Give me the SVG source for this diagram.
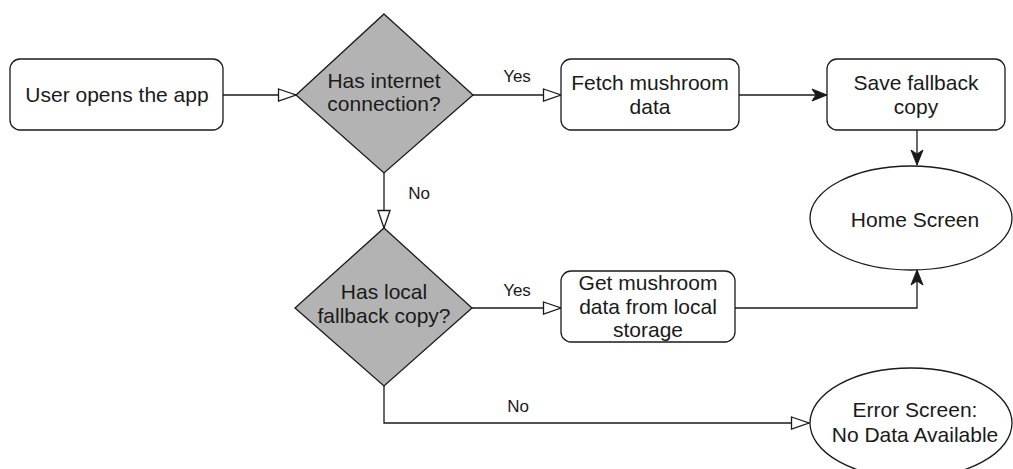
<svg xmlns="http://www.w3.org/2000/svg" width="1013" height="469" viewBox="0 0 1013 469">
  <style>
    .shape { fill: #ffffff; stroke: #1a1a1a; stroke-width: 1.3; }
    .decision { fill: #b3b3b3; stroke: #1a1a1a; stroke-width: 1.3; }
    .label { font-family: "Liberation Sans", Arial, Helvetica, sans-serif; font-size: 21px; fill: #1a1a1a; text-anchor: middle; }
    .edge-label { font-family: "Liberation Sans", Arial, Helvetica, sans-serif; font-size: 17px; fill: #1a1a1a; text-anchor: middle; }
    .edge { fill: none; stroke: #1a1a1a; stroke-width: 1.3; }
    .open { marker-end: url(#hollow); }
    .solid { marker-end: url(#filled); }
  </style>
  <defs>
    <marker id="hollow" markerUnits="userSpaceOnUse" markerWidth="20" markerHeight="14" refX="18" refY="6.5" orient="auto" overflow="visible">
      <polygon points="0.5,0.5 18,6.5 0.5,12.5" fill="#ffffff" stroke="#1a1a1a" stroke-width="1.3"/>
    </marker>
    <marker id="filled" markerUnits="userSpaceOnUse" markerWidth="18" markerHeight="14" refX="15" refY="6" orient="auto" overflow="visible">
      <path d="M0,0 L15,6 L0,12 L4,6 Z" fill="#1a1a1a" stroke="#1a1a1a" stroke-width="1"/>
    </marker>
  </defs>

  <rect width="1013" height="469" fill="#ffffff"/>

  <g id="connectors">
    <path class="edge open" d="M223,95 L296,95"/>
    <path class="edge open" d="M473,95 L561,95"/>
    <path class="edge solid" d="M739,95 L827,95"/>
    <path class="edge solid" d="M917,130 L917,165"/>
    <path class="edge open" d="M384,173 L384,228"/>
    <path class="edge open" d="M472,308 L561,308"/>
    <path class="edge solid" d="M735,308 L917,308 L917,270"/>
    <path class="edge open" d="M384,386 L384,423 L809,423"/>
    <text class="edge-label" x="517" y="82">Yes</text>
    <text class="edge-label" x="419" y="199">No</text>
    <text class="edge-label" x="517" y="296">Yes</text>
    <text class="edge-label" x="518" y="412">No</text>
  </g>

  <g id="start">
    <rect class="shape" x="10" y="59" width="213" height="71" rx="10" ry="10"/>
    <text class="label" x="117" y="102">User opens the app</text>
  </g>

  <g id="has-internet">
    <polygon class="decision" points="384,14 473,95 384,173 296,95"/>
    <text class="label" x="384" y="88">Has internet</text>
    <text class="label" x="384" y="111">connection?</text>
  </g>

  <g id="fetch-data">
    <rect class="shape" x="561" y="59" width="178" height="71" rx="10" ry="10"/>
    <text class="label" x="650" y="90">Fetch mushroom</text>
    <text class="label" x="650" y="114">data</text>
  </g>

  <g id="save-fallback">
    <rect class="shape" x="827" y="59" width="178" height="71" rx="10" ry="10"/>
    <text class="label" x="916" y="90">Save fallback</text>
    <text class="label" x="916" y="114">copy</text>
  </g>

  <g id="home-screen">
    <ellipse class="shape" cx="911" cy="218" rx="101" ry="52"/>
    <text class="label" x="915" y="227">Home Screen</text>
  </g>

  <g id="has-local">
    <polygon class="decision" points="384,228 472,308 384,386 295,308"/>
    <text class="label" x="384" y="299">Has local</text>
    <text class="label" x="384" y="323">fallback copy?</text>
  </g>

  <g id="get-local">
    <rect class="shape" x="561" y="271" width="174" height="71" rx="10" ry="10"/>
    <text class="label" x="648" y="290">Get mushroom</text>
    <text class="label" x="648" y="314">data from local</text>
    <text class="label" x="648" y="337">storage</text>
  </g>

  <g id="error-screen">
    <ellipse class="shape" cx="911" cy="423" rx="101" ry="55"/>
    <text class="label" x="915" y="417">Error Screen:</text>
    <text class="label" x="915" y="442">No Data Available</text>
  </g>
</svg>
